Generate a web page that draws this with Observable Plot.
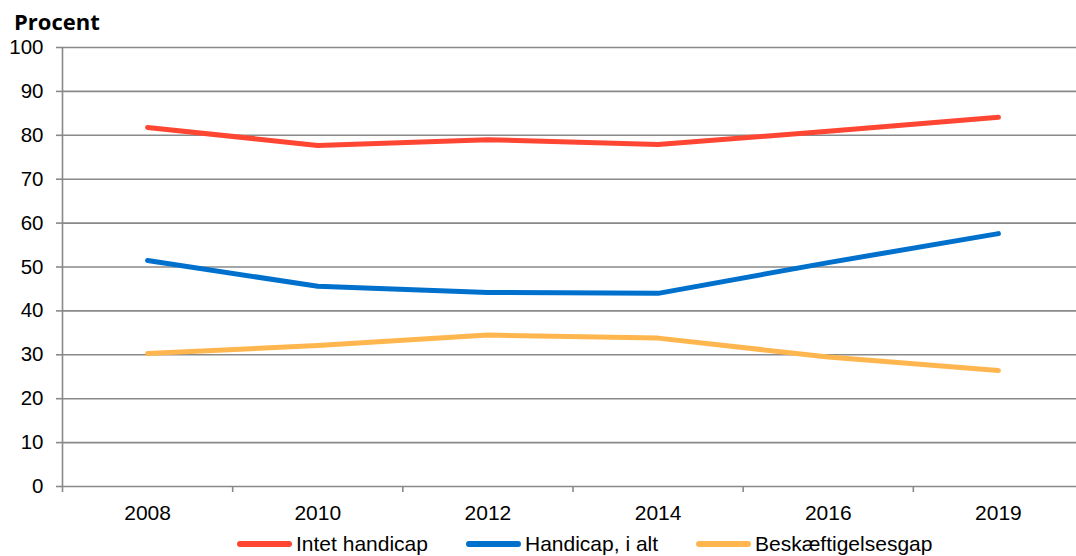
<!DOCTYPE html>
<html><head><meta charset="utf-8">
<script src="https://cdn.jsdelivr.net/npm/d3@7"></script>
<script src="https://cdn.jsdelivr.net/npm/@observablehq/plot@0.6"></script>
<style>
body{margin:0;background:#fff;}
#wrap{position:relative;width:1076px;height:556px;font-family:"Liberation Sans",Arial,sans-serif;overflow:hidden;}
#title{position:absolute;left:14px;top:6px;font:bold 22px "Open Sans",sans-serif;color:#000;}
#legend{position:absolute;left:0;top:532px;height:24px;width:1076px;font-size:21px;color:#000;}
.item{position:absolute;top:0;height:24px;display:flex;align-items:center;white-space:nowrap;}
.sw{width:55px;height:6px;border-radius:3px;margin-right:4px;}
</style></head><body>
<div id="wrap"><div id="chart"></div><div id="title">Procent</div><div id="legend"></div></div>
<script>
const years = ["2008","2010","2012","2014","2016","2019"];
const intetHandicap = [81.8, 77.7, 79.0, 77.9, 80.9, 84.1];
const handicapIAlt = [51.5, 45.6, 44.2, 44.0, 51.0, 57.6];
const beskaeftigelsesgap = [30.3, 32.1, 34.5, 33.8, 29.5, 26.4];
const seriesNames = ["Intet handicap", "Handicap, i alt", "Beskæftigelsesgap"];
const seriesColors = ["#FF4633", "#0070CD", "#FFB64F"];
const yTicks = [0, 10, 20, 30, 40, 50, 60, 70, 80, 90, 100];

const seriesValues = [intetHandicap, handicapIAlt, beskaeftigelsesgap];
const data = [];
seriesNames.forEach((name, s) => {
  years.forEach((yr, i) => data.push({pos: i + 0.5, value: seriesValues[s][i], series: name}));
});
const gridColor = "#898989";

const chart = Plot.plot({
  width: 1076,
  height: 530,
  marginTop: 47,
  marginBottom: 44,
  marginLeft: 62,
  marginRight: 0,
  style: {fontFamily: '"Liberation Sans", Arial, sans-serif', fontSize: "21px", color: "#000", background: "#fff"},
  x: {domain: [0, 6], range: [62, 1083], label: null},
  y: {domain: [0, 100], label: null},
  color: {domain: seriesNames, range: seriesColors},
  marks: [
    Plot.gridY(yTicks, {stroke: gridColor, strokeOpacity: 1, strokeWidth: 1.6}),
    Plot.ruleX([0], {stroke: gridColor, strokeWidth: 1.6}),
    Plot.axisY(yTicks, {tickSize: 6, tickPadding: 13, stroke: gridColor, strokeWidth: 1.6, strokeOpacity: 1, fill: "#000", fontSize: 20.5, label: null}),
    Plot.axisX(d3.range(0, 7), {tickSize: 6, stroke: gridColor, strokeWidth: 1.6, strokeOpacity: 1, tickFormat: () => "", label: null}),
    Plot.axisX(years.map((d, i) => i + 0.5), {tickSize: 0, tickPadding: 19, fill: "#000", fontSize: 21, tickFormat: d => years[Math.floor(d)], label: null}),
    Plot.line(data, {x: "pos", y: "value", z: "series", stroke: "series", strokeWidth: 5, strokeLinecap: "round", strokeLinejoin: "round"})
  ]
});
document.getElementById("chart").appendChild(chart);

const legendLefts = [237, 466, 696];
const legend = document.getElementById("legend");
seriesNames.forEach((name, i) => {
  const item = document.createElement("div");
  item.className = "item";
  item.style.left = legendLefts[i] + "px";
  const sw = document.createElement("span");
  sw.className = "sw";
  sw.style.background = seriesColors[i];
  const t = document.createElement("span");
  t.textContent = name;
  item.appendChild(sw);
  item.appendChild(t);
  legend.appendChild(item);
});
</script>
</body></html>
